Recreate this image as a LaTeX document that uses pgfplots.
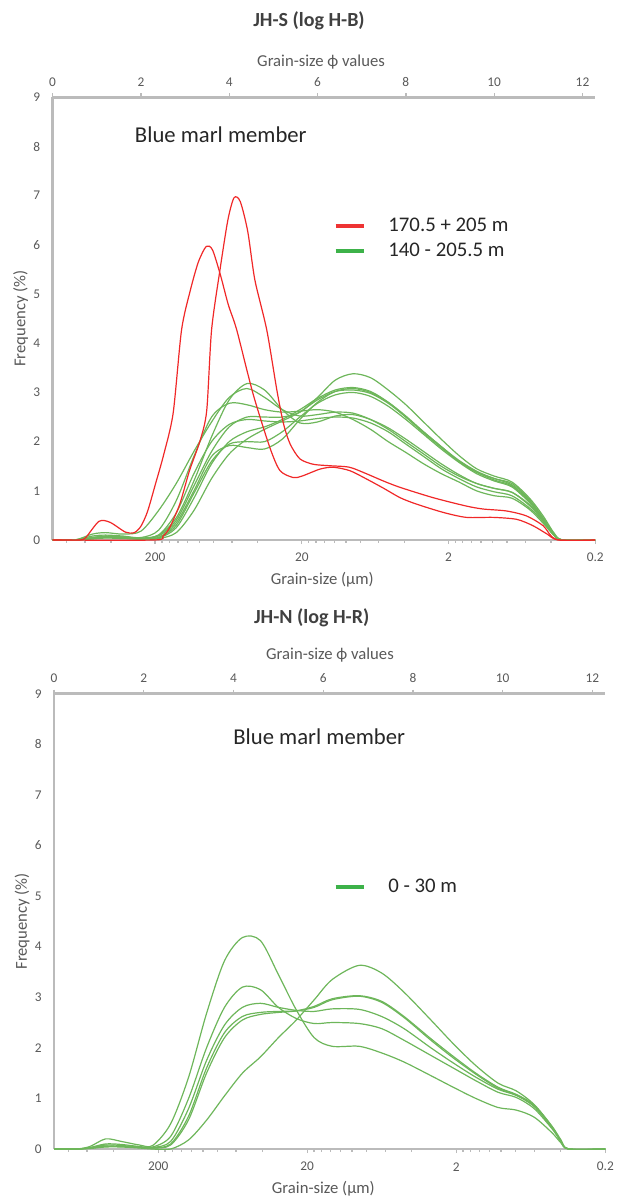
\documentclass[border=0pt]{standalone}
\usepackage{pgfplots}
\pgfplotsset{compat=1.18}
\usepackage{fontspec}
\setmainfont{Carlito}

\definecolor{axgray}{HTML}{BBBBBB}
\definecolor{lblgray}{HTML}{595959}
\definecolor{ttlgray}{HTML}{404040}
\definecolor{txtdark}{HTML}{262626}
\definecolor{redline}{HTML}{F02828}
\definecolor{grnline}{HTML}{6DB65A}
\definecolor{redleg}{HTML}{EE3333}
\definecolor{grnleg}{HTML}{3DB249}

\pgfplotsset{
  gsbase/.style={
    scale only axis, xmin=0, xmax=12.2877, ymin=0, ymax=9,
    /pgf/number format/assume math mode=true,
    axis line style={draw=axgray, line width=2pt},
    every tick/.style={draw=axgray, line width=1pt},
    tick align=outside, major tick length=3pt, minor tick length=2pt,
    tick label style={font=\fontsize{10}{12}\selectfont, text=lblgray},
    label style={font=\fontsize{12.5}{15}\selectfont, text=lblgray},
  },
  % bottom axis: grain size in micrometres, placed at the phi positions
  umaxis/.style={
    gsbase,
    axis x line*=bottom, axis y line*=left,
    xtick={2.3219,5.6439,8.9658,12.2877}, xticklabels={200,20,2,0.2},
    minor xtick={0.3219,0.7370,1.3219,2.4739,2.6439,2.8365,3.0589,3.3219,3.6439,4.0589,4.6439,
      5.7959,5.9658,6.1584,6.3808,6.6439,6.9658,7.3808,7.9658,
      9.1178,9.2877,9.4803,9.7027,9.9658,10.2877,10.7027,11.2877},
    ytick={0,...,9}, ytick style={draw=none},
    xticklabel style={anchor=center, yshift=-10.25pt},
    yticklabel style={anchor=center, xshift=-8.9pt},
    ylabel={Frequency (\%)},
    xlabel={Grain-size (µm)},
    legend cell align=left,
    legend image code/.code={\draw[#1, line width=2.6pt] (0pt,0pt) -- (21pt,0pt);},
  },
  % top axis: phi scale
  phiaxis/.style={
    gsbase,
    axis x line*=top, axis y line=none,
    xtick={0,2,...,12},
    xticklabel style={anchor=center, yshift=8.5pt},
    xlabel={Grain-size ϕ values},
    title style={font=\bfseries\fontsize{15}{18}\selectfont, text=ttlgray, anchor=center, yshift=0pt},
  },
  red/.style={redline, line width=0.9pt, smooth, tension=0.45, forget plot, no markers},
  grn/.style={grnline, line width=0.9pt, smooth, tension=0.5, forget plot, no markers},
}

\begin{document}
\begin{tikzpicture}
\useasboundingbox (0pt,0pt) rectangle (465.75pt,-898.5pt);

% ---------------- JH-S (log H-B) ----------------
\begin{axis}[phiaxis,
  at={(39.45pt,-405pt)}, anchor=south west, width=406.95pt, height=332pt,
  xlabel style={at={(axis description cs:0.4947,1.0804)}, anchor=center},
  title={JH-S (log H-B)}, title style={at={(axis description cs:0.4725,1.155)}},
]
\end{axis}

\begin{axis}[umaxis,
  at={(39.45pt,-405pt)}, anchor=south west, width=406.95pt, height=332pt,
  xlabel style={at={(axis description cs:0.497,-0.0888)}, anchor=center},
  ylabel style={at={(axis description cs:-0.059,0.5)}, anchor=center},
  legend style={at={(rel axis cs:0.5185,0.681)}, anchor=west, draw=none, fill=none,
    inner sep=0pt, outer sep=0pt, font=\fontsize{15.6}{18}\selectfont, text=txtdark,
    row sep=4.5pt, nodes={inner sep=0pt, text height=11pt, text depth=3pt},
    /tikz/every odd column/.append style={column sep=17.25pt}},
]
\node[font=\fontsize{17}{20}\selectfont, text=txtdark] at (rel axis cs:0.310,0.915) {Blue marl member};

\addlegendimage{redleg}
\addlegendentry{170.5 + 205 m}
\addlegendimage{grnleg}
\addlegendentry{140 - 205.5 m}

% green samples
\addplot[grn] coordinates {(0,0)(0.5,0)(0.9,0.12)(1.2,0.15)(1.6,0.12)(2.0,0.18)(2.4,0.6)(2.8,1.15)(3.2,1.8)(3.6,2.4)(4.0,2.9)(4.4,3.08)(4.8,2.9)(5.2,2.65)(5.6,2.52)(6.0,2.55)(6.4,2.6)(6.8,2.58)(7.2,2.45)(7.6,2.25)(8.0,2.0)(8.4,1.75)(8.8,1.5)(9.2,1.3)(9.6,1.15)(10.0,1.05)(10.4,0.97)(10.8,0.72)(11.1,0.42)(11.35,0.12)(11.55,0)(12.2877,0)};
\addplot[grn] coordinates {(0,0)(0.5,0)(0.9,0.05)(1.2,0.08)(1.6,0.06)(2.0,0.04)(2.4,0.1)(2.8,0.45)(3.2,1.2)(3.6,2.1)(4.0,2.85)(4.4,3.18)(4.8,3.05)(5.2,2.65)(5.6,2.38)(6.0,2.4)(6.4,2.52)(6.8,2.55)(7.2,2.45)(7.6,2.28)(8.0,2.05)(8.4,1.8)(8.8,1.55)(9.2,1.33)(9.6,1.15)(10.0,1.05)(10.4,0.97)(10.8,0.7)(11.1,0.4)(11.35,0.1)(11.55,0)(12.2877,0)};
\addplot[grn] coordinates {(0,0)(0.5,0)(0.9,0.08)(1.2,0.1)(1.6,0.08)(2.0,0.05)(2.4,0.2)(2.8,0.8)(3.2,1.7)(3.6,2.5)(4.0,2.78)(4.4,2.75)(4.8,2.65)(5.2,2.6)(5.6,2.62)(6.0,2.65)(6.4,2.6)(6.8,2.45)(7.2,2.25)(7.6,2.0)(8.0,1.78)(8.4,1.55)(8.8,1.35)(9.2,1.18)(9.6,1.0)(10.0,0.9)(10.4,0.85)(10.8,0.62)(11.1,0.35)(11.35,0.1)(11.55,0)(12.2877,0)};
\addplot[grn] coordinates {(0,0)(0.5,0)(0.9,0.04)(1.2,0.06)(1.6,0.05)(2.0,0.03)(2.4,0.08)(2.8,0.4)(3.2,1.1)(3.6,1.8)(4.0,2.3)(4.4,2.5)(4.8,2.5)(5.2,2.5)(5.6,2.6)(6.0,2.9)(6.4,3.25)(6.8,3.38)(7.2,3.3)(7.6,3.05)(8.0,2.75)(8.4,2.4)(8.8,2.05)(9.2,1.72)(9.6,1.45)(10.0,1.3)(10.4,1.18)(10.8,0.85)(11.1,0.5)(11.35,0.15)(11.55,0)(12.2877,0)};
\addplot[grn] coordinates {(0,0)(0.5,0)(0.9,0.03)(1.2,0.05)(1.6,0.04)(2.0,0.02)(2.4,0.05)(2.8,0.35)(3.2,1.0)(3.6,1.7)(4.0,1.92)(4.4,1.88)(4.8,1.85)(5.2,2.05)(5.6,2.45)(6.0,2.8)(6.4,3.02)(6.8,3.08)(7.2,3.0)(7.6,2.8)(8.0,2.52)(8.4,2.2)(8.8,1.9)(9.2,1.6)(9.6,1.38)(10.0,1.25)(10.4,1.12)(10.8,0.8)(11.1,0.45)(11.35,0.12)(11.55,0)(12.2877,0)};
\addplot[grn] coordinates {(0,0)(0.5,0)(0.9,0.02)(1.2,0.04)(1.6,0.03)(2.0,0.02)(2.4,0.03)(2.8,0.15)(3.2,0.6)(3.6,1.25)(4.0,1.75)(4.4,2.05)(4.8,2.25)(5.2,2.42)(5.6,2.6)(6.0,2.85)(6.4,3.02)(6.8,3.05)(7.2,2.98)(7.6,2.78)(8.0,2.5)(8.4,2.2)(8.8,1.9)(9.2,1.62)(9.6,1.4)(10.0,1.25)(10.4,1.15)(10.8,0.82)(11.1,0.46)(11.35,0.12)(11.55,0)(12.2877,0)};
\addplot[grn] coordinates {(0,0)(0.5,0)(0.9,0.03)(1.2,0.05)(1.6,0.04)(2.0,0.02)(2.4,0.04)(2.8,0.25)(3.2,0.85)(3.6,1.55)(4.0,2.0)(4.4,2.2)(4.8,2.3)(5.2,2.45)(5.6,2.65)(6.0,2.88)(6.4,3.05)(6.8,3.1)(7.2,3.02)(7.6,2.8)(8.0,2.5)(8.4,2.18)(8.8,1.88)(9.2,1.6)(9.6,1.38)(10.0,1.22)(10.4,1.1)(10.8,0.78)(11.1,0.44)(11.35,0.12)(11.55,0)(12.2877,0)};
\addplot[grn] coordinates {(0,0)(0.5,0)(0.9,0.05)(1.2,0.08)(1.6,0.06)(2.0,0.04)(2.4,0.1)(2.8,0.55)(3.2,1.35)(3.6,2.0)(4.0,2.35)(4.4,2.45)(4.8,2.42)(5.2,2.4)(5.6,2.42)(6.0,2.47)(6.4,2.5)(6.8,2.48)(7.2,2.38)(7.6,2.2)(8.0,1.95)(8.4,1.7)(8.8,1.45)(9.2,1.25)(9.6,1.08)(10.0,0.98)(10.4,0.9)(10.8,0.65)(11.1,0.38)(11.35,0.1)(11.55,0)(12.2877,0)};
\addplot[grn] coordinates {(0,0)(0.5,0)(0.9,0.04)(1.2,0.07)(1.6,0.05)(2.0,0.03)(2.4,0.05)(2.8,0.3)(3.2,0.95)(3.6,1.6)(4.0,1.95)(4.4,2.0)(4.8,2.0)(5.2,2.2)(5.6,2.5)(6.0,2.78)(6.4,2.95)(6.8,3.0)(7.2,2.92)(7.6,2.72)(8.0,2.45)(8.4,2.15)(8.8,1.85)(9.2,1.58)(9.6,1.35)(10.0,1.2)(10.4,1.08)(10.8,0.76)(11.1,0.43)(11.35,0.11)(11.55,0)(12.2877,0)};

% red samples
\addplot[red] coordinates {(0,0)(0.6,0)(0.75,0.05)(1.05,0.38)(1.3,0.36)(1.65,0.16)(1.85,0.15)(2.0,0.28)(2.15,0.58)(2.33,1.14)(2.52,1.75)(2.73,2.58)(2.92,4.27)(3.12,5.08)(3.3,5.65)(3.48,5.97)(3.62,5.9)(3.8,5.39)(3.98,4.78)(4.17,4.27)(4.54,2.97)(4.92,1.88)(5.15,1.41)(5.45,1.27)(5.65,1.3)(6.05,1.44)(6.35,1.48)(6.73,1.41)(7.11,1.24)(7.5,1.05)(7.87,0.86)(8.24,0.73)(8.85,0.56)(9.37,0.46)(9.98,0.46)(10.51,0.42)(10.88,0.29)(11.2,0.12)(11.45,0)(12.2877,0)};
\addplot[red] coordinates {(0,0)(2.3,0)(2.5,0.08)(2.65,0.25)(2.88,0.73)(3.1,1.41)(3.34,2.02)(3.49,2.63)(3.6,4.27)(3.79,5.49)(3.97,6.51)(4.11,6.96)(4.25,6.88)(4.42,6.27)(4.58,5.29)(4.85,4.27)(5.08,3.04)(5.23,2.36)(5.38,1.95)(5.6,1.65)(5.9,1.54)(6.28,1.51)(6.72,1.48)(7.1,1.35)(7.49,1.2)(7.87,1.07)(8.62,0.86)(9.37,0.69)(9.75,0.63)(10.28,0.59)(10.73,0.49)(11.11,0.29)(11.41,0.01)(12.2877,0)};
\end{axis}

% ---------------- JH-N (log H-R) ----------------
\begin{axis}[phiaxis,
  at={(40.5pt,-861.75pt)}, anchor=south west, width=413.5pt, height=341.5pt,
  xlabel style={at={(axis description cs:0.5006,1.085)}, anchor=center},
  title={JH-N (log H-R)}, title style={at={(axis description cs:0.4674,1.1502)}},
]
\end{axis}

\begin{axis}[umaxis,
  at={(40.5pt,-861.75pt)}, anchor=south west, width=413.5pt, height=341.5pt,
  xlabel style={at={(axis description cs:0.4886,-0.0879)}, anchor=center},
  ylabel style={at={(axis description cs:-0.058,0.5)}, anchor=center},
  legend style={at={(rel axis cs:0.5075,0.575)}, anchor=west, draw=none, fill=none,
    inner sep=0pt, outer sep=0pt, font=\fontsize{15.6}{18}\selectfont, text=txtdark,
    nodes={inner sep=0pt, text height=11pt, text depth=3pt},
    /tikz/every odd column/.append style={column sep=17.25pt}},
]
\node[font=\fontsize{17}{20}\selectfont, text=txtdark] at (rel axis cs:0.481,0.905) {Blue marl member};

\addlegendimage{grnleg}
\addlegendentry{0 - 30 m}

\addplot[grn] coordinates {(0,0)(0.5,0)(0.8,0.05)(1.15,0.2)(1.5,0.15)(1.9,0.08)(2.2,0.07)(2.6,0.5)(3.0,1.42)(3.4,2.68)(3.8,3.72)(4.2,4.18)(4.6,4.12)(5.0,3.45)(5.4,2.75)(5.8,2.2)(6.2,2.03)(6.8,2.03)(7.3,1.9)(7.8,1.72)(8.4,1.45)(8.9,1.22)(9.4,1.0)(9.9,0.82)(10.3,0.77)(10.7,0.63)(11.1,0.32)(11.3,0.12)(11.47,0)(12.2877,0)};
\addplot[grn] coordinates {(0,0)(0.5,0)(0.8,0.03)(1.15,0.1)(1.5,0.09)(1.9,0.05)(2.2,0.04)(2.6,0.25)(3.0,1.0)(3.4,2.0)(3.8,2.8)(4.2,3.2)(4.6,3.15)(5.0,2.8)(5.4,2.58)(5.8,2.48)(6.2,2.5)(6.8,2.48)(7.3,2.38)(7.8,2.15)(8.4,1.85)(8.9,1.6)(9.4,1.35)(9.9,1.12)(10.3,1.02)(10.7,0.8)(11.1,0.4)(11.3,0.15)(11.47,0)(12.2877,0)};
\addplot[grn] coordinates {(0,0)(0.5,0)(0.8,0.02)(1.15,0.08)(1.5,0.07)(1.9,0.04)(2.2,0.03)(2.6,0.15)(3.0,0.8)(3.4,1.75)(3.8,2.45)(4.2,2.8)(4.6,2.88)(5.0,2.8)(5.4,2.74)(5.8,2.72)(6.2,2.77)(6.8,2.76)(7.3,2.62)(7.8,2.38)(8.4,2.0)(8.9,1.7)(9.4,1.42)(9.9,1.18)(10.3,1.06)(10.7,0.84)(11.1,0.42)(11.3,0.15)(11.47,0)(12.2877,0)};
\addplot[grn] coordinates {(0,0)(0.5,0)(0.8,0.02)(1.15,0.06)(1.5,0.05)(1.9,0.03)(2.2,0.02)(2.6,0.1)(3.0,0.65)(3.4,1.6)(3.8,2.3)(4.2,2.62)(4.6,2.7)(5.0,2.72)(5.4,2.73)(5.8,2.8)(6.2,2.95)(6.8,3.02)(7.3,2.9)(7.8,2.6)(8.4,2.15)(8.9,1.8)(9.4,1.48)(9.9,1.2)(10.3,1.07)(10.7,0.85)(11.1,0.43)(11.3,0.15)(11.47,0)(12.2877,0)};
\addplot[grn] coordinates {(0,0)(0.5,0)(0.8,0.02)(1.15,0.05)(1.5,0.05)(1.9,0.03)(2.2,0.02)(2.6,0.08)(3.0,0.58)(3.4,1.5)(3.8,2.2)(4.2,2.55)(4.6,2.66)(5.0,2.7)(5.4,2.73)(5.8,2.82)(6.2,2.97)(6.8,3.03)(7.3,2.92)(7.8,2.62)(8.4,2.18)(8.9,1.83)(9.4,1.5)(9.9,1.22)(10.3,1.08)(10.7,0.87)(11.1,0.44)(11.3,0.15)(11.47,0)(12.2877,0)};
\addplot[grn] coordinates {(0,0)(0.5,0)(0.8,0.01)(1.15,0.04)(1.5,0.04)(1.9,0.02)(2.2,0)(2.6,0)(3.0,0.18)(3.4,0.57)(3.8,1.05)(4.2,1.5)(4.6,1.82)(5.0,2.2)(5.4,2.55)(5.8,2.95)(6.2,3.35)(6.8,3.63)(7.3,3.48)(7.8,3.1)(8.4,2.55)(8.9,2.08)(9.4,1.65)(9.9,1.3)(10.3,1.15)(10.7,0.88)(11.1,0.45)(11.3,0.18)(11.47,0)(12.2877,0)};
\end{axis}
\end{tikzpicture}
\end{document}
